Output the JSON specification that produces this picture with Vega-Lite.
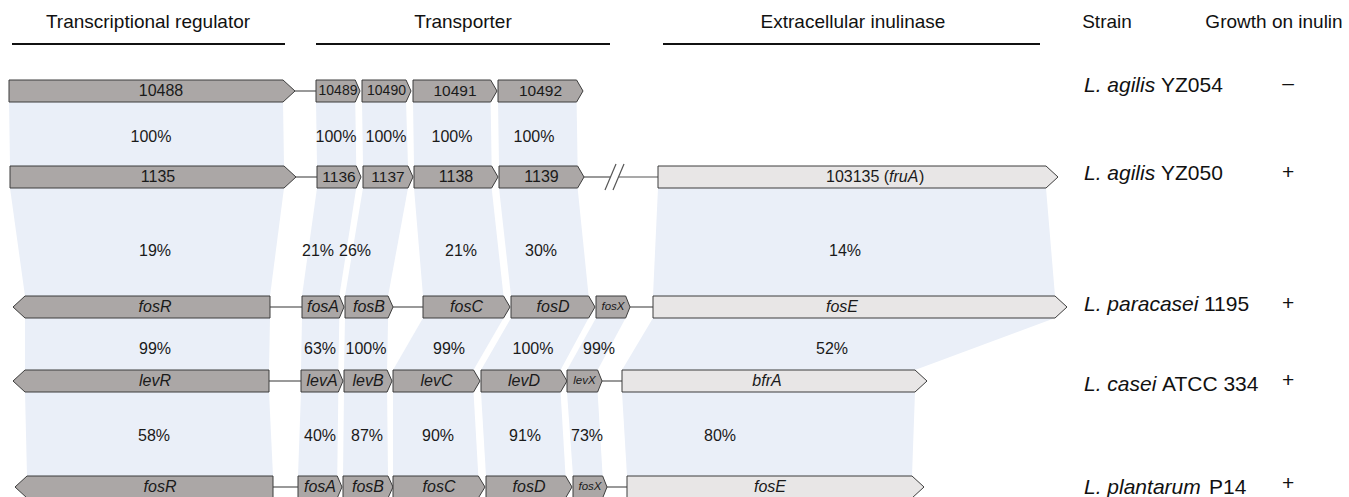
{
  "$schema": "https://vega.github.io/schema/vega-lite/v6.json",
  "width": 1349,
  "height": 497,
  "autosize": {"type": "none"},
  "padding": 0,
  "background": "white",
  "view": {"stroke": null},
  "config": {"text": {"font": "Liberation Sans, Arial, sans-serif", "color": "#1a1a1a", "fill": "#1a1a1a", "baseline": "middle"}},
  "datasets": {
    "genes": [
      {"id": "a10488", "track": 91, "start": 9, "end": 295, "dir": "R", "kind": "core", "label": "10488", "it": false, "sz": "big", "lx": 161},
      {"id": "a10489", "track": 91, "start": 316, "end": 360, "dir": "R", "kind": "core", "label": "10489", "it": false, "sz": "tight"},
      {"id": "a10490", "track": 91, "start": 362, "end": 411, "dir": "R", "kind": "core", "label": "10490", "it": false, "sz": "tight"},
      {"id": "a10491", "track": 91, "start": 413, "end": 497, "dir": "R", "kind": "core", "label": "10491", "it": false, "sz": "std"},
      {"id": "a10492", "track": 91, "start": 498, "end": 583, "dir": "R", "kind": "core", "label": "10492", "it": false, "sz": "std"},
      {"id": "b1135", "track": 177, "start": 10, "end": 296, "dir": "R", "kind": "core", "label": "1135", "it": false, "sz": "big", "lx": 158},
      {"id": "b1136", "track": 177, "start": 317, "end": 361, "dir": "R", "kind": "core", "label": "1136", "it": false, "sz": "std"},
      {"id": "b1137", "track": 177, "start": 363, "end": 413, "dir": "R", "kind": "core", "label": "1137", "it": false, "sz": "std"},
      {"id": "b1138", "track": 177, "start": 414, "end": 498, "dir": "R", "kind": "core", "label": "1138", "it": false, "sz": "big"},
      {"id": "b1139", "track": 177, "start": 499, "end": 584, "dir": "R", "kind": "core", "label": "1139", "it": false, "sz": "big"},
      {"id": "bfruA", "track": 177, "start": 658, "end": 1058, "dir": "R", "kind": "inulinase", "label": "", "it": false, "sz": "std"},
      {"id": "c_fosR", "track": 307, "start": 13, "end": 270, "dir": "L", "kind": "core", "label": "fosR", "it": true, "sz": "big", "lx": 155},
      {"id": "c_fosA", "track": 307, "start": 302, "end": 344, "dir": "R", "kind": "core", "label": "fosA", "it": true, "sz": "big"},
      {"id": "c_fosB", "track": 307, "start": 345, "end": 393, "dir": "R", "kind": "core", "label": "fosB", "it": true, "sz": "big"},
      {"id": "c_fosC", "track": 307, "start": 423, "end": 510, "dir": "R", "kind": "core", "label": "fosC", "it": true, "sz": "big"},
      {"id": "c_fosD", "track": 307, "start": 511, "end": 595, "dir": "R", "kind": "core", "label": "fosD", "it": true, "sz": "big"},
      {"id": "c_fosX", "track": 307, "start": 596, "end": 630, "dir": "R", "kind": "core", "label": "fosX", "it": true, "sz": "mini"},
      {"id": "c_fosE", "track": 307, "start": 653, "end": 1067, "dir": "R", "kind": "inulinase", "label": "fosE", "it": true, "sz": "big", "lx": 842},
      {"id": "d_levR", "track": 381, "start": 13, "end": 269, "dir": "L", "kind": "core", "label": "levR", "it": true, "sz": "big", "lx": 155},
      {"id": "d_levA", "track": 381, "start": 301, "end": 343, "dir": "R", "kind": "core", "label": "levA", "it": true, "sz": "big"},
      {"id": "d_levB", "track": 381, "start": 344, "end": 392, "dir": "R", "kind": "core", "label": "levB", "it": true, "sz": "big"},
      {"id": "d_levC", "track": 381, "start": 393, "end": 480, "dir": "R", "kind": "core", "label": "levC", "it": true, "sz": "big"},
      {"id": "d_levD", "track": 381, "start": 481, "end": 567, "dir": "R", "kind": "core", "label": "levD", "it": true, "sz": "big"},
      {"id": "d_levX", "track": 381, "start": 567, "end": 602, "dir": "R", "kind": "core", "label": "levX", "it": true, "sz": "mini"},
      {"id": "d_bfrA", "track": 381, "start": 622, "end": 927, "dir": "R", "kind": "inulinase", "label": "bfrA", "it": true, "sz": "big", "lx": 767},
      {"id": "e_fosR", "track": 487, "start": 15, "end": 273, "dir": "L", "kind": "core", "label": "fosR", "it": true, "sz": "big", "lx": 160},
      {"id": "e_fosA", "track": 487, "start": 298, "end": 342, "dir": "R", "kind": "core", "label": "fosA", "it": true, "sz": "big"},
      {"id": "e_fosB", "track": 487, "start": 343, "end": 393, "dir": "R", "kind": "core", "label": "fosB", "it": true, "sz": "big"},
      {"id": "e_fosC", "track": 487, "start": 393, "end": 485, "dir": "R", "kind": "core", "label": "fosC", "it": true, "sz": "big"},
      {"id": "e_fosD", "track": 487, "start": 486, "end": 572, "dir": "R", "kind": "core", "label": "fosD", "it": true, "sz": "big"},
      {"id": "e_fosX", "track": 487, "start": 573, "end": 607, "dir": "R", "kind": "core", "label": "fosX", "it": true, "sz": "mini"},
      {"id": "e_fosE", "track": 487, "start": 627, "end": 924, "dir": "R", "kind": "inulinase", "label": "fosE", "it": true, "sz": "big", "lx": 770}
    ],
    "bands": [
      {"from": "a10488", "to": "b1135", "pct": "100%", "lx": 151, "ly": 137},
      {"from": "a10489", "to": "b1136", "pct": "100%", "lx": 336, "ly": 137},
      {"from": "a10490", "to": "b1137", "pct": "100%", "lx": 386, "ly": 137},
      {"from": "a10491", "to": "b1138", "pct": "100%", "lx": 452, "ly": 137},
      {"from": "a10492", "to": "b1139", "pct": "100%", "lx": 534, "ly": 137},
      {"from": "b1135", "to": "c_fosR", "pct": "19%", "lx": 155, "ly": 251},
      {"from": "b1136", "to": "c_fosA", "pct": "21%", "lx": 318, "ly": 251},
      {"from": "b1137", "to": "c_fosB", "pct": "26%", "lx": 355, "ly": 251},
      {"from": "b1138", "to": "c_fosC", "pct": "21%", "lx": 461, "ly": 251},
      {"from": "b1139", "to": "c_fosD", "pct": "30%", "lx": 541, "ly": 251},
      {"from": "bfruA", "to": "c_fosE", "pct": "14%", "lx": 845, "ly": 251},
      {"from": "c_fosR", "to": "d_levR", "pct": "99%", "lx": 155, "ly": 349},
      {"from": "c_fosA", "to": "d_levA", "pct": "63%", "lx": 320, "ly": 349},
      {"from": "c_fosB", "to": "d_levB", "pct": "100%", "lx": 366, "ly": 349},
      {"from": "c_fosC", "to": "d_levC", "pct": "99%", "lx": 449, "ly": 349},
      {"from": "c_fosD", "to": "d_levD", "pct": "100%", "lx": 533, "ly": 349},
      {"from": "c_fosX", "to": "d_levX", "pct": "99%", "lx": 599, "ly": 349},
      {"from": "c_fosE", "to": "d_bfrA", "pct": "52%", "lx": 832, "ly": 349},
      {"from": "d_levR", "to": "e_fosR", "pct": "58%", "lx": 154, "ly": 436},
      {"from": "d_levA", "to": "e_fosA", "pct": "40%", "lx": 320, "ly": 436},
      {"from": "d_levB", "to": "e_fosB", "pct": "87%", "lx": 367, "ly": 436},
      {"from": "d_levC", "to": "e_fosC", "pct": "90%", "lx": 438, "ly": 436},
      {"from": "d_levD", "to": "e_fosD", "pct": "91%", "lx": 525, "ly": 436},
      {"from": "d_levX", "to": "e_fosX", "pct": "73%", "lx": 587, "ly": 436},
      {"from": "d_bfrA", "to": "e_fosE", "pct": "80%", "lx": 720, "ly": 436}
    ],
    "links": [
      {"X": 295, "X2": 316, "Y": 91},
      {"X": 296, "X2": 317, "Y": 177},
      {"X": 584, "X2": 610, "Y": 177},
      {"X": 619, "X2": 658, "Y": 177},
      {"X": 270, "X2": 302, "Y": 307},
      {"X": 393, "X2": 423, "Y": 307},
      {"X": 630, "X2": 653, "Y": 307},
      {"X": 269, "X2": 301, "Y": 381},
      {"X": 602, "X2": 622, "Y": 381},
      {"X": 273, "X2": 298, "Y": 487},
      {"X": 607, "X2": 627, "Y": 487}
    ],
    "breaks": [
      {"X": 605, "Y": 190, "X2": 616, "Y2": 164},
      {"X": 613, "Y": 190, "X2": 624, "Y2": 164}
    ],
    "groups": [
      {"X": 12, "X2": 285, "Y": 44},
      {"X": 316, "X2": 610, "Y": 44},
      {"X": 663, "X2": 1040, "Y": 44}
    ],
    "notes": [
      {"t": "Transcriptional regulator", "X": 148, "Y": 22, "role": "head", "it": false},
      {"t": "Transporter", "X": 463, "Y": 22, "role": "head", "it": false},
      {"t": "Extracellular inulinase", "X": 853, "Y": 22, "role": "head", "it": false},
      {"t": "Strain", "X": 1107, "Y": 22, "role": "head", "it": false},
      {"t": "Growth on inulin", "X": 1274, "Y": 22, "role": "head", "it": false},
      {"t": "–", "X": 1288, "Y": 84, "role": "growth", "it": false},
      {"t": "+", "X": 1288, "Y": 173, "role": "growth", "it": false},
      {"t": "+", "X": 1288, "Y": 304, "role": "growth", "it": false},
      {"t": "+", "X": 1288, "Y": 381, "role": "growth", "it": false},
      {"t": "+", "X": 1288, "Y": 484, "role": "growth", "it": false},
      {"t": "L. agilis", "X": 1084, "Y": 86, "role": "strain", "it": true},
      {"t": "YZ054", "X": 1161, "Y": 86, "role": "strain", "it": false},
      {"t": "L. agilis", "X": 1084, "Y": 174, "role": "strain", "it": true},
      {"t": "YZ050", "X": 1161, "Y": 174, "role": "strain", "it": false},
      {"t": "L. paracasei", "X": 1084, "Y": 305, "role": "strain", "it": true},
      {"t": "1195", "X": 1204, "Y": 305, "role": "strain", "it": false},
      {"t": "L. casei", "X": 1084, "Y": 385, "role": "strain", "it": true},
      {"t": "ATCC 334", "X": 1162, "Y": 385, "role": "strain", "it": false},
      {"t": "L. plantarum", "X": 1084, "Y": 488, "role": "strain", "it": true},
      {"t": "P14", "X": 1209, "Y": 488, "role": "strain", "it": false},
      {"t": "103135 (", "X": 826, "Y": 177, "role": "gene", "it": false},
      {"t": "fruA", "X": 889, "Y": 177, "role": "gene", "it": true},
      {"t": ")", "X": 919, "Y": 177, "role": "gene", "it": false}
    ]
  },
  "encoding": {
    "x": {"field": "X", "type": "quantitative", "scale": {"domain": [0, 1349], "nice": false, "zero": false}, "axis": null},
    "y": {"field": "Y", "type": "quantitative", "scale": {"domain": [0, 497], "reverse": true, "nice": false, "zero": false}, "axis": null, "stack": null}
  },
  "layer": [
    {
      "data": {"name": "bands"},
      "transform": [
        {"lookup": "from", "from": {"data": {"name": "genes"}, "key": "id", "fields": ["start", "end", "dir", "track"]}, "as": ["s1", "e1", "d1", "t1"]},
        {"lookup": "to", "from": {"data": {"name": "genes"}, "key": "id", "fields": ["start", "end", "dir", "track"]}, "as": ["s2", "e2", "d2", "t2"]},
        {"calculate": "clamp((datum.e1 - datum.s1) * 0.04 + 3, 4, 12)", "as": "k1"},
        {"calculate": "clamp((datum.e2 - datum.s2) * 0.04 + 3, 4, 12)", "as": "k2"},
        {"calculate": "[datum.d1 == 'R' ? datum.s1 : datum.s1 + datum.k1, datum.d2 == 'R' ? datum.s2 : datum.s2 + datum.k2]", "as": "xa"},
        {"calculate": "[datum.d1 == 'R' ? datum.e1 - datum.k1 : datum.e1, datum.d2 == 'R' ? datum.e2 - datum.k2 : datum.e2]", "as": "xb"},
        {"calculate": "[datum.t1 + 11, datum.t2 - 11]", "as": "ys"},
        {"flatten": ["xa", "xb", "ys"], "as": ["X", "X2", "Y"]}
      ],
      "mark": {"type": "area", "orient": "horizontal", "fill": "#eaeff8", "opacity": 1, "interpolate": "linear"},
      "encoding": {
        "x2": {"field": "X2"},
        "detail": {"field": "from", "type": "nominal"}
      }
    },
    {
      "data": {"name": "links"},
      "mark": {"type": "rule", "stroke": "#555555", "strokeWidth": 1.2},
      "encoding": {"x2": {"field": "X2"}}
    },
    {
      "data": {"name": "breaks"},
      "mark": {"type": "rule", "stroke": "#555555", "strokeWidth": 1.2},
      "encoding": {"x2": {"field": "X2"}, "y2": {"field": "Y2"}}
    },
    {
      "data": {"name": "groups"},
      "mark": {"type": "rule", "stroke": "#111111", "strokeWidth": 2},
      "encoding": {"x2": {"field": "X2"}}
    },
    {
      "data": {"name": "genes"},
      "transform": [
        {"calculate": "clamp((datum.end - datum.start) * 0.04 + 3, 4, 12)", "as": "tip"},
        {"calculate": "datum.dir == 'R' ? [datum.start, datum.end - datum.tip, datum.end] : [datum.start, datum.start + datum.tip, datum.end]", "as": "xs"},
        {"calculate": "datum.dir == 'R' ? [11, 11, 0] : [0, 11, 11]", "as": "hs"},
        {"flatten": ["xs", "hs"], "as": ["X", "h"]},
        {"calculate": "datum.track - datum.h", "as": "Y"},
        {"calculate": "datum.track + datum.h", "as": "Y2"}
      ],
      "mark": {"type": "area", "orient": "vertical", "stroke": "#3d3d3d", "strokeWidth": 1, "opacity": 1, "interpolate": "linear"},
      "encoding": {
        "y2": {"field": "Y2"},
        "detail": {"field": "id", "type": "nominal"},
        "fill": {"field": "kind", "type": "nominal", "scale": {"domain": ["core", "inulinase"], "range": ["#aba7a6", "#e8e6e6"]}, "legend": null}
      }
    },
    {
      "data": {"name": "genes"},
      "transform": [
        {"filter": "datum.label != '' && !datum.it"},
        {"calculate": "isValid(datum.lx) ? datum.lx : (datum.start + datum.end) / 2", "as": "X"},
        {"calculate": "datum.track", "as": "Y"},
        {"calculate": "datum.sz == 'big' ? 16 : datum.sz == 'tight' ? 14 : 15.5", "as": "fs"}
      ],
      "mark": {"type": "text", "align": "center", "fill": "#1a1a1a"},
      "encoding": {
        "text": {"field": "label"},
        "size": {"field": "fs", "type": "quantitative", "scale": null}
      }
    },
    {
      "data": {"name": "genes"},
      "transform": [
        {"filter": "datum.label != '' && datum.it"},
        {"calculate": "isValid(datum.lx) ? datum.lx : (datum.start + datum.end) / 2", "as": "X"},
        {"calculate": "datum.track", "as": "Y"},
        {"calculate": "datum.sz == 'mini' ? 11.5 : 16", "as": "fs"}
      ],
      "mark": {"type": "text", "align": "center", "fontStyle": "italic", "fill": "#1a1a1a"},
      "encoding": {
        "text": {"field": "label"},
        "size": {"field": "fs", "type": "quantitative", "scale": null}
      }
    },
    {
      "data": {"name": "bands"},
      "transform": [
        {"calculate": "datum.lx", "as": "X"},
        {"calculate": "datum.ly", "as": "Y"}
      ],
      "mark": {"type": "text", "align": "center", "fontSize": 16, "fill": "#1a1a1a"},
      "encoding": {"text": {"field": "pct"}}
    },
    {
      "data": {"name": "notes"},
      "transform": [{"filter": "datum.role == 'head'"}],
      "mark": {"type": "text", "align": "center", "fontSize": 19, "fill": "#111111"},
      "encoding": {"text": {"field": "t"}}
    },
    {
      "data": {"name": "notes"},
      "transform": [{"filter": "datum.role == 'growth'"}],
      "mark": {"type": "text", "align": "center", "fontSize": 21, "fill": "#111111"},
      "encoding": {"text": {"field": "t"}}
    },
    {
      "data": {"name": "notes"},
      "transform": [{"filter": "datum.role == 'strain' && !datum.it"}],
      "mark": {"type": "text", "align": "left", "fontSize": 21, "fill": "#111111"},
      "encoding": {"text": {"field": "t"}}
    },
    {
      "data": {"name": "notes"},
      "transform": [{"filter": "datum.role == 'strain' && datum.it"}],
      "mark": {"type": "text", "align": "left", "fontSize": 21, "fontStyle": "italic", "fill": "#111111"},
      "encoding": {"text": {"field": "t"}}
    },
    {
      "data": {"name": "notes"},
      "transform": [{"filter": "datum.role == 'gene' && !datum.it"}],
      "mark": {"type": "text", "align": "left", "fontSize": 16, "fill": "#1a1a1a"},
      "encoding": {"text": {"field": "t"}}
    },
    {
      "data": {"name": "notes"},
      "transform": [{"filter": "datum.role == 'gene' && datum.it"}],
      "mark": {"type": "text", "align": "left", "fontSize": 16, "fontStyle": "italic", "fill": "#1a1a1a"},
      "encoding": {"text": {"field": "t"}}
    }
  ]
}
